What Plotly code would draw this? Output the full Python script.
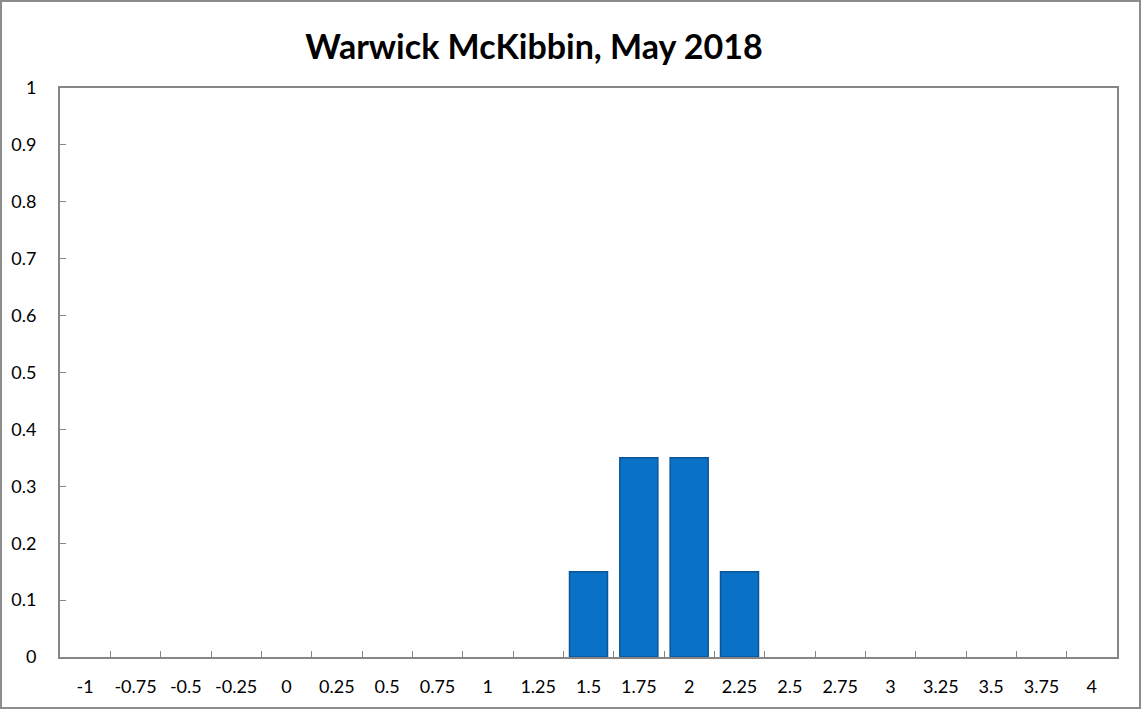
import plotly.graph_objects as go

categories = ["-1", "-0.75", "-0.5", "-0.25", "0", "0.25", "0.5", "0.75", "1", "1.25",
              "1.5", "1.75", "2", "2.25", "2.5", "2.75", "3", "3.25", "3.5", "3.75", "4"]
probabilities = [0, 0, 0, 0, 0, 0, 0, 0, 0, 0,
                 0.15, 0.35, 0.35, 0.15, 0, 0, 0, 0, 0, 0, 0]
y_ticks = [0, 0.1, 0.2, 0.3, 0.4, 0.5, 0.6, 0.7, 0.8, 0.9, 1]

W, H = 1142, 710
L, R, T, B = 60, 25, 88, 53
pw, ph = W - L - R, H - T - B

# no outline on the empty bars, otherwise they show up as a thin line on the axis
edge_widths = [1.5 if p > 0 else 0 for p in probabilities]

fig = go.Figure()
fig.add_trace(go.Bar(
    x=categories, y=probabilities,
    marker=dict(color="#0A72C6", line=dict(color="#0A559A", width=edge_widths)),
))

fig.update_layout(
    width=W, height=H,
    margin=dict(l=L, r=R, t=T, b=B),
    paper_bgcolor="white", plot_bgcolor="white",
    font=dict(family="Lato, 'Open Sans', sans-serif", size=18, color="black"),
    bargap=0.245,
    showlegend=False,
    title=dict(text="<b>Warwick McKibbin, May 2018</b>", x=534 / W, xanchor="center",
               y=1 - 47 / H, yanchor="middle", font=dict(size=34)),
    shapes=[dict(type="rect", xref="paper", yref="paper",
                 x0=(1 - L) / pw, x1=(W - 2 - L) / pw,
                 y0=-(B - 2) / ph, y1=(ph + T - 1) / ph,
                 line=dict(color="#8C8C8C", width=2))],
)
fig.update_xaxes(type="category", tickson="boundaries", ticks="inside", ticklen=6,
                 tickcolor="#868686", showline=True, linecolor="#868686", linewidth=2,
                 mirror=True, showgrid=False, ticklabelstandoff=12, tickangle=0,
                 automargin=False)
fig.update_yaxes(range=[0, 1], tickvals=y_ticks, ticktext=[f"{v:g}" for v in y_ticks],
                 ticks="inside", ticklen=6, tickcolor="#868686", showline=True,
                 linecolor="#868686", linewidth=2, mirror=True, showgrid=False,
                 zeroline=False, ticklabelstandoff=18, automargin=False)

fig.write_html("out.html", config={"displayModeBar": False},
               post_script="document.body.style.margin='0';")
